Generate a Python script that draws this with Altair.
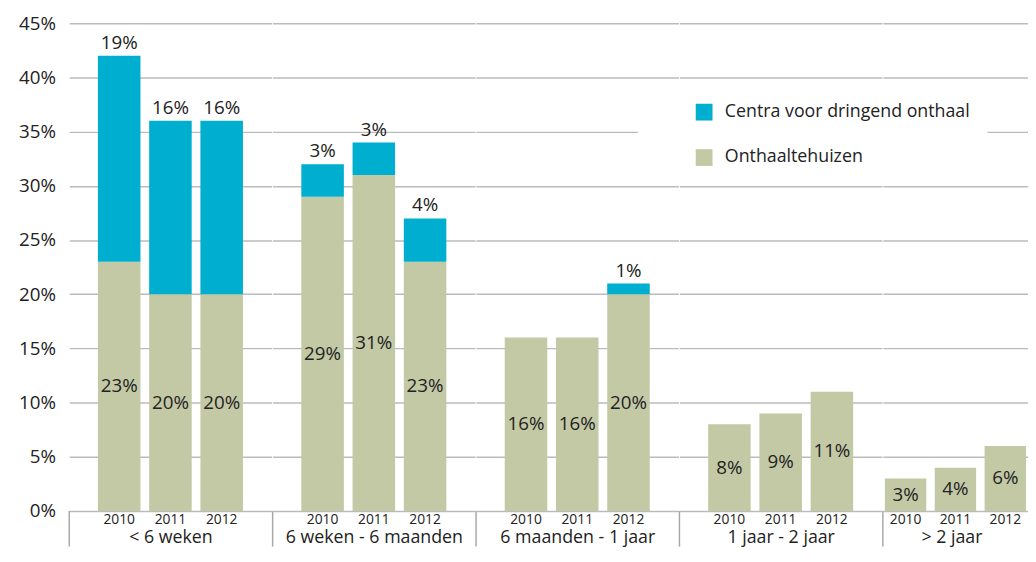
import altair as alt
import pandas as pd

groups = ["< 6 weken", "6 weken - 6 maanden", "6 maanden - 1 jaar", "1 jaar - 2 jaar", "> 2 jaar"]
years = ["2010", "2011", "2012"]
onthaal = [[23, 20, 20], [29, 31, 23], [16, 16, 20], [8, 9, 11], [3, 4, 6]]
centra = [[19, 16, 16], [3, 3, 4], [0, 0, 1], [0, 0, 0], [0, 0, 0]]
series = ["Centra voor dringend onthaal", "Onthaaltehuizen"]
colors = ["#00AECF", "#C3C9A5"]

wide_rows = []
long_rows = []
for i, g in enumerate(groups):
    for j, yr in enumerate(years):
        wide_rows.append({"group": g, "year": yr, "onthaal": onthaal[i][j], "centra": centra[i][j]})
        long_rows.append({"group": g, "year": yr, "series": series[1], "value": onthaal[i][j], "so": 0})
        long_rows.append({"group": g, "year": yr, "series": series[0], "value": centra[i][j], "so": 1})
wide = pd.DataFrame(wide_rows)
long = pd.DataFrame(long_rows)

H = 494
FONT = "Open Sans"
TXT = "#222222"
GRID = "#BBBBBB"

yscale = alt.Scale(domain=[0, 45], nice=False)
legend = alt.Legend(title=None, orient="none", legendX=576, legendY=64,
                    fillColor="white", padding=17, symbolType="square",
                    symbolSize=289, symbolStrokeWidth=0, labelFontSize=18,
                    labelFont=FONT, labelColor=TXT, rowPadding=28,
                    symbolOffset=41, labelOffset=12, labelLimit=600)
cscale = alt.Scale(domain=series, range=colors)


def panel(i):
    g = groups[i]
    first = i == 0
    last = i == len(groups) - 1
    ws = wide[wide.group == g]
    ls = long[long.group == g]
    # the original figure is cropped on the right: the last group is narrower
    if last:
        width = 147
        xs = alt.Scale(domain=years, paddingInner=0.17, paddingOuter=0.04)
    else:
        width = 205
        xs = alt.Scale(domain=years, paddingInner=0.17, paddingOuter=0.56)
    axkw = dict(title=g, labelAngle=0, ticks=False, domain=False, grid=False,
                labelFontSize=14, labelFont=FONT, labelColor=TXT, labelPadding=2,
                titleFontSize=18, titleFont=FONT, titleColor=TXT, titleFontWeight="normal",
                titlePadding=2)
    if last:
        axkw["titleX"] = 69.5
    xenc = alt.X("year:N", scale=xs, axis=alt.Axis(**axkw))
    if first:
        yaxis = alt.Axis(title=None, values=list(range(0, 46, 5)), labelExpr="datum.value + '%'",
                         ticks=False, domain=False, gridColor=GRID, gridWidth=1.5,
                         labelPadding=14, labelFontSize=19, labelColor=TXT, labelFont=FONT)
    else:
        yaxis = alt.Axis(title=None, values=list(range(0, 46, 5)), labels=False,
                         ticks=False, domain=False, gridColor=GRID, gridWidth=1.5)

    bars = alt.Chart(ls).mark_bar().encode(
        x=xenc,
        y=alt.Y("value:Q", stack="zero", scale=yscale, axis=yaxis),
        color=alt.Color("series:N", scale=cscale, legend=legend),
        order=alt.Order("so:Q"),
    )
    green_txt = alt.Chart(ws).transform_calculate(
        mid="datum.onthaal / 2", lab="datum.onthaal + '%'"
    ).mark_text(fontSize=19, font=FONT, color=TXT, baseline="middle").encode(
        x=xenc,
        y=alt.Y("mid:Q", scale=yscale, axis=yaxis),
        text="lab:N",
    )
    layers = [bars, green_txt]
    if (ws.centra > 0).any():
        blue_txt = alt.Chart(ws).transform_filter("datum.centra > 0").transform_calculate(
            tot="datum.onthaal + datum.centra", lab="datum.centra + '%'"
        ).mark_text(fontSize=19, font=FONT, color=TXT, baseline="bottom", dy=-3).encode(
            x=xenc,
            y=alt.Y("tot:Q", scale=yscale, axis=yaxis),
            text="lab:N",
        )
        layers.append(blue_txt)
    sep = alt.Chart(pd.DataFrame({"group": [g]})).mark_rule(color="#A8A8A8", strokeWidth=1.5).encode(
        x=alt.value(0),
        y=alt.value(H),
        y2=alt.value(H + 36),
    )
    layers.append(sep)
    return alt.layer(*layers).properties(width=width, height=H)


chart = alt.hconcat(*[panel(i) for i in range(len(groups))], spacing=0).properties(
    padding={"left": 10, "top": 3, "right": 0, "bottom": 0},
    background="white",
).configure_view(stroke=None)

chart.save("out.html", embed_options={"renderer": "svg", "actions": False})
